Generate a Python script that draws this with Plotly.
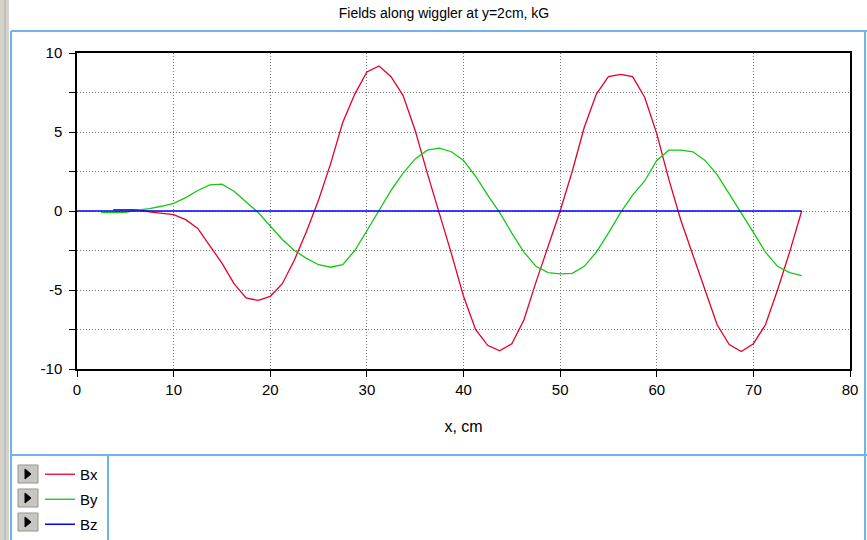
import plotly.graph_objects as go

# ---------------- data ----------------
bx_x = [3.75, 5, 6.25, 7.5, 8.75, 10, 11.25, 12.5, 13.75, 15, 16.25, 17.5, 18.75, 20,
        21.25, 22.5, 23.75, 25, 26.25, 27.5, 28.75, 30, 31.25, 32.5, 33.75, 35, 36.25,
        37.5, 38.75, 40, 41.25, 42.5, 43.75, 45, 46.25, 47.5, 48.75, 50, 51.25, 52.5,
        53.75, 55, 56.25, 57.5, 58.75, 60, 61.25, 62.5, 63.75, 65, 66.25, 67.5, 68.75,
        70, 71.25, 72.5, 73.75, 75]
bx = [0.08, 0.08, 0.08, -0.05, -0.12, -0.23, -0.55, -1.1, -2.2, -3.3, -4.6, -5.5, -5.66, -5.4,
      -4.6, -3.1, -1.3, 0.7, 3.0, 5.6, 7.4, 8.8, 9.18, 8.5, 7.3, 5.1, 2.4,
      -0.1, -2.7, -5.4, -7.5, -8.5, -8.85, -8.4, -6.9, -4.5, -2.2, 0.0, 2.5, 5.3,
      7.4, 8.5, 8.65, 8.5, 7.2, 4.9, 2.0, -0.6, -2.8, -5.0, -7.2, -8.45, -8.89,
      -8.4, -7.2, -5.0, -2.6, 0.0]

by_x = [2.5, 3.75, 5, 6.25, 7.5, 8.75, 10, 11.25, 12.5, 13.75, 15, 16.25, 17.5, 18.75, 20,
        21.25, 22.5, 23.75, 25, 26.25, 27.5, 28.75, 30, 31.25, 32.5, 33.75, 35, 36.25,
        37.5, 38.75, 40, 41.25, 42.5, 43.75, 45, 46.25, 47.5, 48.75, 50, 51.25, 52.5,
        53.75, 55, 56.25, 57.5, 58.75, 60, 61.25, 62.5, 63.75, 65, 66.25, 67.5, 68.75,
        70, 71.25, 72.5, 73.75, 75]
by = [-0.1, -0.1, -0.08, 0.05, 0.15, 0.3, 0.48, 0.85, 1.3, 1.65, 1.7, 1.25, 0.6, -0.1, -0.95,
      -1.8, -2.5, -3.0, -3.4, -3.56, -3.4, -2.5, -1.25, 0.05, 1.3, 2.4, 3.3, 3.85,
      3.98, 3.75, 3.2, 2.2, 1.0, -0.1, -1.4, -2.6, -3.5, -3.9, -3.98, -3.95, -3.5,
      -2.6, -1.4, -0.1, 1.0, 1.9, 3.2, 3.85, 3.85, 3.75, 3.2, 2.3, 1.1, -0.1,
      -1.35, -2.6, -3.5, -3.9, -4.09]

bz_x = [0, 75]
bz = [0, 0]

x_ticks = [0, 10, 20, 30, 40, 50, 60, 70, 80]
y_ticks = [-10, -7.5, -5, -2.5, 0, 2.5, 5, 7.5, 10]
y_ticktext = ["-10", "", "-5", "", "0", "", "5", "", "10"]

title_text = "Fields along wiggler at y=2cm, kG"
x_title = "x, cm"

# ---------------- layout helpers ----------------
W, H = 867, 540
PL, PR, PT, PB = 77, 850, 53, 369   # plot area in page pixels


def px(x):   # page x -> paper
    return (x - PL) / (PR - PL)


def py(y):   # page y -> paper
    return (PB - y) / (PB - PT)


FONT = "Liberation Sans, Arial, sans-serif"
RED = "rgb(228,0,40)"
GREEN = "rgb(20,200,20)"
BLUE = "rgb(0,0,255)"
FRAME = "rgb(110,180,235)"
GRID = "rgb(120,120,120)"

fig = go.Figure()
fig.add_trace(go.Scatter(x=bx_x, y=bx, mode="lines", name="Bx",
                         line=dict(color=RED, width=1.3), legendgroup="a"))
fig.add_trace(go.Scatter(x=by_x, y=by, mode="lines", name="By",
                         line=dict(color=GREEN, width=1.3), legendgroup="b"))
fig.add_trace(go.Scatter(x=bz_x, y=bz, mode="lines", name="Bz",
                         line=dict(color=BLUE, width=1.5), legendgroup="c"))

shapes = []
# left gray strip of the window
shapes.append(dict(type="rect", xref="paper", yref="paper", x0=px(0), x1=px(9), y0=py(H), y1=py(0),
                   fillcolor="rgb(214,211,204)", line=dict(width=0)))
shapes.append(dict(type="line", xref="paper", yref="paper", x0=px(5), x1=px(5), y0=py(H), y1=py(0),
                   line=dict(color="rgb(175,172,165)", width=1)))
# chart panel border (light blue)
shapes.append(dict(type="line", xref="paper", yref="paper", x0=px(11), x1=px(11), y0=py(H), y1=py(31),
                   line=dict(color=FRAME, width=2)))
shapes.append(dict(type="line", xref="paper", yref="paper", x0=px(11), x1=px(W), y0=py(31), y1=py(31),
                   line=dict(color=FRAME, width=2)))
shapes.append(dict(type="line", xref="paper", yref="paper", x0=px(865), x1=px(865), y0=py(H), y1=py(31),
                   line=dict(color=FRAME, width=2)))
# legend panel separators
shapes.append(dict(type="line", xref="paper", yref="paper", x0=px(11), x1=px(W), y0=py(455), y1=py(455),
                   line=dict(color=FRAME, width=2)))
shapes.append(dict(type="line", xref="paper", yref="paper", x0=px(108), x1=px(108), y0=py(455), y1=py(H),
                   line=dict(color=FRAME, width=2)))
# legend buttons
for top in (465, 489, 513):
    shapes.append(dict(type="rect", xref="paper", yref="paper", x0=px(18), x1=px(38),
                       y0=py(top + 18), y1=py(top),
                       fillcolor="rgb(200,198,192)", line=dict(color="rgb(150,148,142)", width=1)))
    shapes.append(dict(type="path", xref="paper", yref="paper",
                       path=f"M {px(25)} {py(top + 4)} L {px(31)} {py(top + 9)} L {px(25)} {py(top + 14)} Z",
                       fillcolor="black", line=dict(color="black", width=1)))

fig.update_layout(
    width=W, height=H,
    margin=dict(l=PL, r=W - PR, t=PT, b=H - PB, pad=0, autoexpand=False),
    paper_bgcolor="white", plot_bgcolor="white",
    font=dict(family=FONT, size=15, color="black"),
    title=dict(text=title_text, x=444 / W, xref="container", xanchor="center",
               y=1 - 13 / H, yref="container", yanchor="middle",
               font=dict(family=FONT, size=14, color="black")),
    showlegend=True,
    legend=dict(x=40 / W, y=1 - 458 / H, xref="container", yref="container",
                xanchor="left", yanchor="top",
                bgcolor="rgba(0,0,0,0)", borderwidth=0,
                font=dict(family=FONT, size=15, color="black"),
                tracegroupgap=2.5, itemwidth=30, traceorder="grouped"),
    shapes=shapes,
)

fig.update_xaxes(range=[0, 80], tickvals=x_ticks, ticks="outside", ticklen=6, tickwidth=1,
                 tickcolor="black", showline=True, linecolor="black", linewidth=1.5, mirror=True,
                 showgrid=True, gridcolor=GRID, griddash="1px,2px", gridwidth=1,
                 zeroline=False, tickfont=dict(size=15), automargin=False,
                 title=dict(text=x_title, font=dict(size=16), standoff=24))
fig.update_yaxes(range=[-10, 10], tickvals=y_ticks, ticktext=y_ticktext, ticks="outside",
                 ticklen=6, tickwidth=1, tickcolor="black", showline=True, linecolor="black",
                 linewidth=1.5, mirror=True, showgrid=True, gridcolor=GRID,
                 griddash="1px,2px", gridwidth=1, zeroline=False, tickfont=dict(size=15),
                 ticklabelstandoff=4, automargin=False)

# place the figure at the page origin (remove the default body margin), no mode bar
fig.write_html("out.html", config={"displayModeBar": False},
               post_script="document.body.style.margin='0px';")
